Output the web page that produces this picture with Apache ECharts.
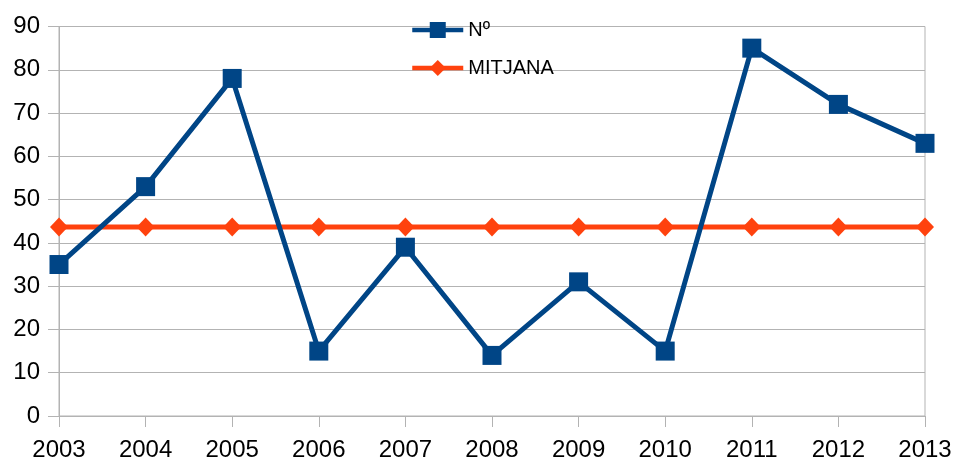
<!DOCTYPE html>
<html>
<head>
<meta charset="utf-8">
<script src="https://cdn.jsdelivr.net/npm/echarts@6/dist/echarts.min.js"></script>
<style>
  html, body { margin: 0; padding: 0; background: #fff; }
  #chart { width: 956px; height: 463px; }
</style>
</head>
<body>
<div id="chart"></div>
<script>
const years = ['2003', '2004', '2005', '2006', '2007', '2008', '2009', '2010', '2011', '2012', '2013'];
const numValues = [35, 53, 78, 15, 39, 14, 31, 15, 85, 72, 63];
const mitjanaValues = [43.7, 43.7, 43.7, 43.7, 43.7, 43.7, 43.7, 43.7, 43.7, 43.7, 43.7];

const font = 'Liberation Sans, Arial, sans-serif';
const gray = '#b3b3b3';

let myChart = echarts.init(document.getElementById('chart'));
let option = {
  animation: false,
  backgroundColor: '#fff',
  grid: {
    left: 59,
    right: 31,
    top: 26.5,
    bottom: 47,
    show: true,
    borderColor: gray,
    borderWidth: 1
  },
  legend: {
    orient: 'vertical',
    left: 405,
    top: 15,
    itemWidth: 51,
    itemHeight: 20,
    itemGap: 18,
    lineStyle: { width: 4.5 },
    textStyle: { fontFamily: font, fontSize: 20, color: '#000' },
    data: ['Nº', 'MITJANA']
  },
  xAxis: {
    type: 'category',
    boundaryGap: false,
    data: years,
    axisLine: { lineStyle: { color: gray } },
    axisTick: { show: true, length: 11, lineStyle: { color: gray }, alignWithLabel: true },
    axisLabel: { fontFamily: font, fontSize: 24, color: '#000', margin: 22 },
    splitLine: { show: false }
  },
  yAxis: {
    type: 'value',
    min: 0,
    max: 90,
    interval: 10,
    axisLine: { show: true, lineStyle: { color: gray } },
    axisTick: { show: true, length: 11, lineStyle: { color: gray } },
    axisLabel: { fontFamily: font, fontSize: 24, color: '#000', margin: 19 },
    splitLine: { show: true, lineStyle: { color: gray } }
  },
  series: [{
    name: 'Nº',
    type: 'line',
    data: numValues,
    symbol: 'rect',
    symbolSize: 19,
    lineStyle: { width: 5, color: '#004586' },
    itemStyle: { color: '#004586' },
    z: 3
  }, {
    name: 'MITJANA',
    type: 'line',
    data: mitjanaValues,
    symbol: 'diamond',
    symbolSize: [18, 19],
    lineStyle: { width: 5, color: '#ff420e' },
    itemStyle: { color: '#ff420e' },
    z: 2
  }]
};
myChart.setOption(option);
</script>
</body>
</html>
